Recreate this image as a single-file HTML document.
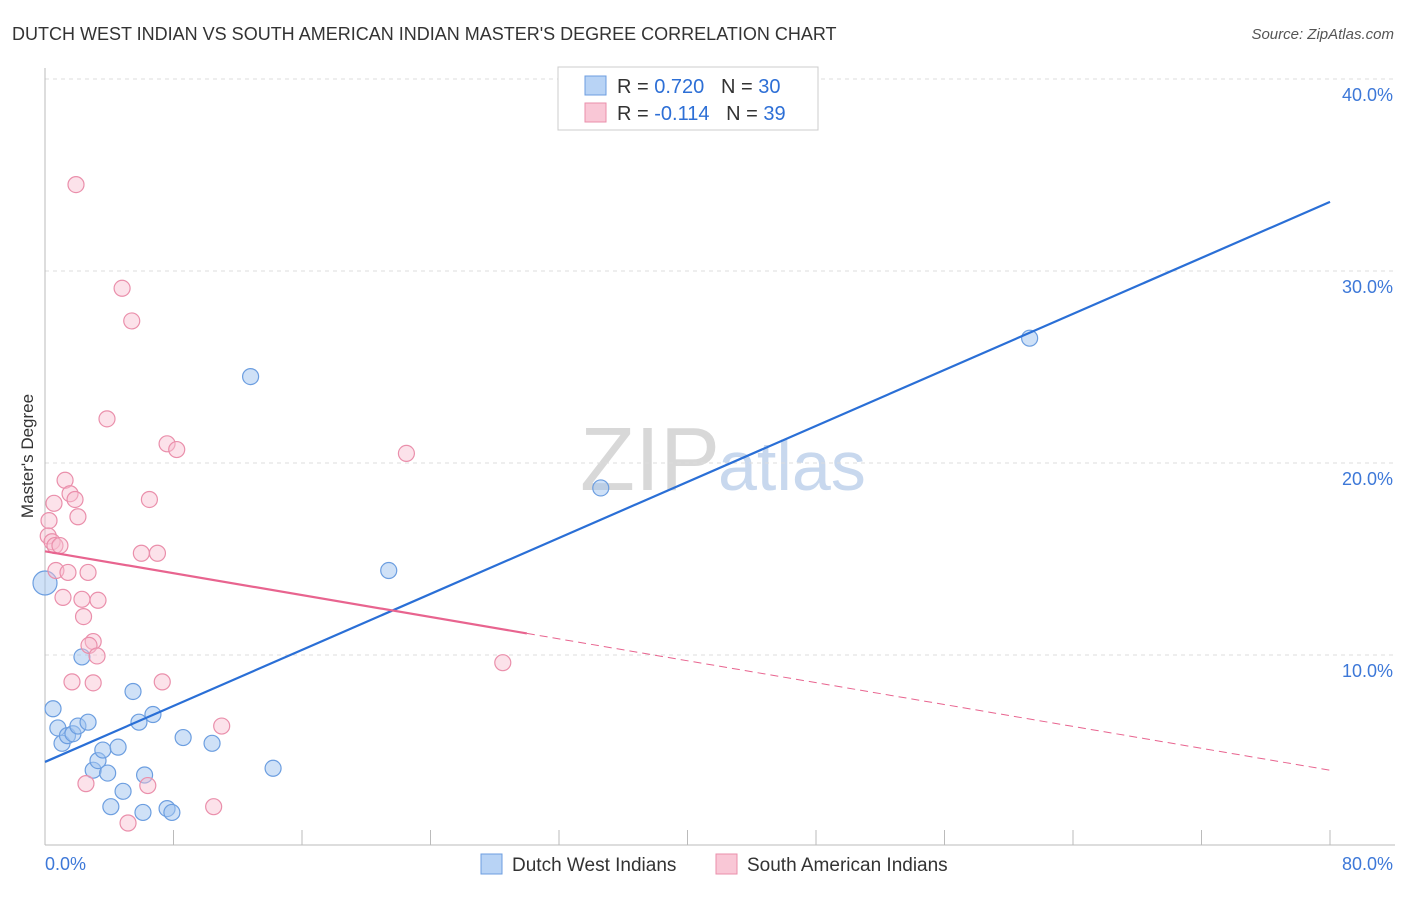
<!DOCTYPE html>
<html><head><meta charset="utf-8"><style>
body{margin:0;background:#fff;font-family:"Liberation Sans",sans-serif;}
svg text{font-family:"Liberation Sans",sans-serif;}
</style></head><body>
<svg id="c" width="1406" height="892" xmlns="http://www.w3.org/2000/svg">
<text x="12" y="40" font-size="18" fill="#333">DUTCH WEST INDIAN VS SOUTH AMERICAN INDIAN MASTER'S DEGREE CORRELATION CHART</text>
<text x="1394" y="39" font-size="15" fill="#555" font-style="italic" text-anchor="end">Source: ZipAtlas.com</text>
<text x="33" y="456" font-size="17" fill="#333" text-anchor="middle" transform="rotate(-90 33 456)">Master's Degree</text>
<text x="720" y="490" font-size="90" fill="#d8d8d8" font-family="Liberation Serif" text-anchor="end">ZIP</text>
<text x="718" y="490" font-size="70" fill="#c8d8ee">atlas</text>
<g id="grid"></g><g id="pts"></g><g id="lines"></g>
<rect x="558" y="67" width="260" height="63" fill="#fff" stroke="#ccc"/>
<rect x="585" y="76" width="21" height="19" fill="#b8d3f5" stroke="#6c9ee0"/>
<rect x="585" y="103" width="21" height="19" fill="#f9c7d6" stroke="#ea8fab"/>
<text x="617" y="93" font-size="20" fill="#333">R = <tspan fill="#2d6fd6">0.720</tspan>&#160;&#160;&#160;N = <tspan fill="#2d6fd6">30</tspan></text>
<text x="617" y="120" font-size="20" fill="#333">R = <tspan fill="#2d6fd6">-0.114</tspan>&#160;&#160;&#160;N = <tspan fill="#2d6fd6">39</tspan></text>
<rect x="481" y="854" width="21" height="20" fill="#b8d3f5" stroke="#6c9ee0"/>
<text x="512" y="871" font-size="19" fill="#333">Dutch West Indians</text>
<rect x="716" y="854" width="21" height="20" fill="#f9c7d6" stroke="#ea8fab"/>
<text x="747" y="871" font-size="19" fill="#333">South American Indians</text>
</svg>
<script>
const yTicks=[10,20,30,40];
const xTickLabels=["0.0%","80.0%"];
const blueX=[0,0.5,0.8,1.06,1.4,1.74,2.05,2.3,2.68,3.0,3.3,3.6,3.9,4.1,4.55,4.86,5.48,5.85,6.1,6.2,6.72,7.6,7.9,8.6,10.4,12.8,14.2,21.4,34.6,61.3];
const blueY=[13.75,7.2,6.2,5.4,5.8,5.9,6.3,9.9,6.5,4.0,4.5,5.05,3.85,2.1,5.2,2.9,8.1,6.5,1.8,3.75,6.9,2.0,1.8,5.7,5.4,24.5,4.1,14.4,18.7,26.5];
const pinkX=[1.93,4.8,5.4,3.86,7.6,8.2,22.5,1.25,1.56,1.87,6.5,0.56,2.05,0.25,0.2,0.44,0.62,0.93,6.0,7.0,0.68,1.43,2.68,1.12,2.3,3.3,2.4,3.0,2.74,3.24,1.68,3.0,7.3,28.5,11.0,2.55,6.4,10.5,5.17];
const pinkY=[34.5,29.1,27.4,22.3,21.0,20.7,20.5,19.1,18.4,18.1,18.1,17.9,17.2,17.0,16.2,15.9,15.7,15.7,15.3,15.3,14.4,14.3,14.3,13.0,12.9,12.85,12.0,10.7,10.5,9.95,8.6,8.55,8.6,9.6,6.3,3.3,3.2,2.1,1.25];
const blueLine=[4.43,33.6];
const pinkLine=[15.4,4.0];
const pinkSolidEnd=30;
const X=v=>45+v/80*1285, Y=v=>847-v*19.2;
const NS="http://www.w3.org/2000/svg";
function mk(t,a,p){const e=document.createElementNS(NS,t);for(const k in a)e.setAttribute(k,a[k]);p.appendChild(e);return e;}
const g=document.getElementById('grid');
yTicks.forEach(t=>{
 const l=mk('line',{x1:45,x2:1395,y1:Y(t),y2:Y(t),stroke:'#ddd','stroke-dasharray':'4,4'},g);
 
 
 const tx=mk('text',{x:1393,y:Y(t)+22,'font-size':18,fill:'#3d78d8','text-anchor':'end'},g);tx.textContent=t.toFixed(1)+'%';
 
 
});
const ax=mk('line',{x1:45,x2:45,y1:68,y2:845,stroke:'#bbb'},g);


const bx=mk('line',{x1:45,x2:1395,y1:845,y2:845,stroke:'#bbb'},g);


for(let i=0;i<=10;i++){const t=mk('line',{x1:X(i*8),x2:X(i*8),y1:830,y2:845,stroke:'#bbb'},g);
 
 }
[[0,'start',45],[1,'end',1393]].forEach(([i,a,x])=>{const t=mk('text',{x:x,y:870,'font-size':18,fill:'#3d78d8','text-anchor':a},g);t.textContent=xTickLabels[i];
 
 });
const p=document.getElementById('pts');
blueX.forEach((x,i)=>{const c=mk('circle',{cx:X(x),cy:Y(blueY[i]),r:i==0?12:8,fill:'rgba(160,196,240,0.5)',stroke:'#6c9ee0','stroke-width':1.2},p);
 
 });
pinkX.forEach((x,i)=>{const c=mk('circle',{cx:X(x),cy:Y(pinkY[i]),r:8,fill:'rgba(248,190,208,0.45)',stroke:'#ea8fab','stroke-width':1.2},p);
 
 });
const L=document.getElementById('lines');
const bl=mk('line',{x1:X(0),y1:Y(blueLine[0]),x2:X(80),y2:Y(blueLine[1]),stroke:'#2a6fd6','stroke-width':2.2},L);


const pm=pinkLine[0]+(pinkLine[1]-pinkLine[0])*pinkSolidEnd/80;
const pl=mk('line',{x1:X(0),y1:Y(pinkLine[0]),x2:X(pinkSolidEnd),y2:Y(pm),stroke:'#e8648f','stroke-width':2.2},L);


const pd=mk('line',{x1:X(pinkSolidEnd),y1:Y(pm),x2:X(80),y2:Y(pinkLine[1]),stroke:'#e8648f','stroke-width':1,'stroke-dasharray':'8,5'},L);


</script>
</body></html>
